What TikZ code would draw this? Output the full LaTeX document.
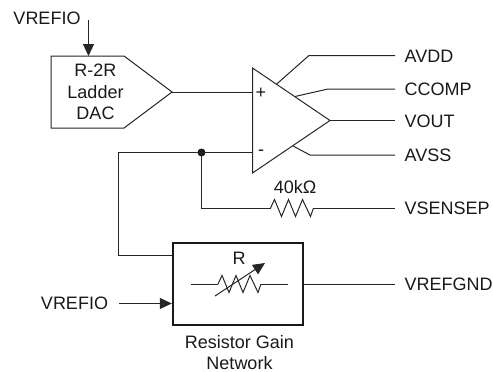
\documentclass[tikz,border=0pt]{standalone}
\usepackage{fontspec}
\setmainfont{Liberation Sans}
\usetikzlibrary{arrows.meta,positioning}

\begin{document}
\begin{tikzpicture}[
  x=1pt, y=-1pt,
  wire/.style={line width=1pt, black!85, line join=miter},
  inarrow/.style={wire, -{Triangle[length=12pt,width=11pt]}},
  txt/.style={font=\fontsize{18}{22}\selectfont, inner sep=0pt, text=black!90},
  pin/.style={txt, anchor=west, inner xsep=9.5pt, text height=13pt, text depth=0pt},
  zigzag/.pic={
    \coordinate (-in) at (0,0);
    \coordinate (-out) at (43,0);
    \draw[wire] (-in) -- ++(4,-8.5) -- ++(7,17) -- ++(7,-17) -- ++(7,17)
      -- ++(7,-17) -- ++(8,17) -- (-out);
  }
]
  \useasboundingbox (0,0) rectangle (493,372);
  % DAC block
  \coordinate (dactop) at (88.5,56);
  \coordinate (dactip) at (172,92);
  \draw[wire] (51,56) -- (dactop) -- (124,56) -- (dactip) -- (124,128) -- (51,128) -- cycle;
  \node[txt, align=center] (dac) at (95.5,92) {R-2R\\[-0.5pt]Ladder\\[-0.5pt]DAC};
  \node[txt] (vrefa) at (47,18) {VREFIO};
  \coordinate (vrefastart) at (88.5,20);
  \draw[inarrow] (vrefastart) -- (dactop);

  % amplifier
  \coordinate (ampa) at (252.5,68);
  \coordinate (ampb) at (252.5,173);
  \coordinate (ampout) at (330,120.5);
  \draw[wire] (ampa) -- (ampout) -- (ampb) -- cycle;
  \node[txt] (plus) at (261,93.5) {+};
  \node[txt] (minus) at (261,152.5) {-};
  \coordinate (ampp) at (252.5,92);
  \coordinate (ampm) at (252.5,152.5);
  \draw[wire] (dactip) -- (ampp);

  % pins on the right
  \node[pin] (avdd) at (395,55.5) {AVDD};
  \node[pin] (ccomp) at (395,89) {CCOMP};
  \node[pin] (vout) at (395,120.5) {VOUT};
  \node[pin] (avss) at (395,155) {AVSS};
  \node[pin] (vsense) at (395,208) {VSENSEP};
  \node[pin] (vrefgnd) at (395,284) {VREFGND};
  \draw[wire] (276.7,84) -- (309,55.5) -- (avdd.west);
  \draw[wire] (295,96.5) -- (328,89) -- (ccomp.west);
  \draw[wire] (ampout) -- (vout.west);
  \draw[wire] (293,146) -- (310,155) -- (avss.west);

  % feedback
  \node[draw, line width=2.4pt, black!90, minimum width=130pt, minimum height=82pt] (gain) at (238,284) {};
  \coordinate (fbjoin) at (201.5,152.5);
  \fill[black!90] (fbjoin) circle (4pt);
  \coordinate (gainin) at (gain.west |- 0,255.5);
  \draw[wire] (ampm) -- (fbjoin) -- (118.5,152.5) -- (118.5,255.5) -- (gainin);
  \pic (rf) at (270.5,208) {zigzag};
  \node[txt] (rflab) at (295,187) {40kΩ};
  \draw[wire] (fbjoin) -- (201.5,208) -- (rf-in);
  \draw[wire] (rf-out) -- (vsense.west);

  % gain network
  \pic (rg) at (218,284) {zigzag};
  \coordinate (rga) at (191,284);
  \coordinate (rgb) at (288,284);
  \draw[wire] (rga) -- (rg-in);
  \draw[wire] (rg-out) -- (rgb);
  \coordinate (rgarrow) at (215,296);
  \coordinate (rgtip) at (265,263);
  \draw[inarrow] (rgarrow) -- (rgtip);
  \node[txt] (rlab) at (239,258) {R};
  \draw[wire] (gain.east) -- (vrefgnd.west);
  \node[txt] (vrefb) at (74.5,303) {VREFIO};
  \coordinate (vrefbstart) at (119,303.5);
  \draw[inarrow] (vrefbstart) -- (gain.west |- vrefbstart);
  \node[txt, align=center] (gainlab) at (239.5,352.5) {Resistor Gain\\[-1.5pt]Network};
\end{tikzpicture}
\end{document}
